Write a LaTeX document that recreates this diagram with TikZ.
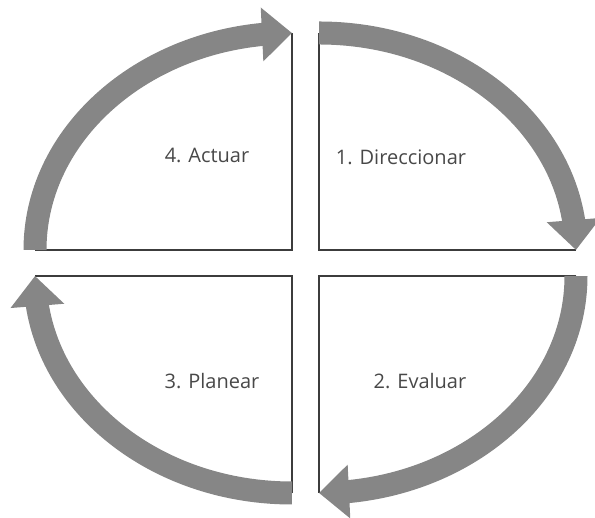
\documentclass[tikz,border=0pt]{standalone}
\usepackage{fontspec}
\setmainfont{Open Sans}
\usetikzlibrary{arrows.meta, bending}

\definecolor{arcgray}{RGB}{134,134,134}
\definecolor{textgray}{RGB}{72,72,72}
\definecolor{framegray}{RGB}{60,60,60}

\begin{document}
\begin{tikzpicture}[
	x=1pt, y=1pt,
	% thick grey arrows round the cycle
	cycle arrow/.style={draw=arcgray, line width=23pt, -{Triangle[width=52pt, length=30pt]}},
	% thin lines of the quadrants
	quad line/.style={draw=framegray, line width=1.5pt},
	% labels of the four phases
	phase label/.style={font=\fontsize{20}{23}\selectfont, text=textgray, align=center}
	]
	\useasboundingbox (0,0) rectangle (595,518);

	% ==============================================================================
	% INNER CORNERS AND ENDS OF THE ARCS
	% ==============================================================================
	\coordinate (TL) at (292,268);
	\coordinate (TR) at (319,268);
	\coordinate (BR) at (319,242);
	\coordinate (BL) at (292,242);

	\coordinate (TL-w) at (35,268);  \coordinate (TL-n) at (292,485);
	\coordinate (TR-n) at (319,485); \coordinate (TR-e) at (576,268);
	\coordinate (BR-e) at (576,242); \coordinate (BR-s) at (319,25);
	\coordinate (BL-s) at (292,25);  \coordinate (BL-w) at (35,242);

	% Quadrant lines
	\draw[quad line] (TL-w) -- (TL) -- (TL-n);
	\draw[quad line] (TR-n) -- (TR) -- (TR-e);
	\draw[quad line] (BR-e) -- (BR) -- (BR-s);
	\draw[quad line] (BL-s) -- (BL) -- (BL-w);

	% ==============================================================================
	% CYCLE ARROWS
	% ==============================================================================
	\draw[cycle arrow] (TR-n) arc[start angle=90, end angle=0, x radius=257pt, y radius=217pt];   % 1 -> 2
	\draw[cycle arrow] (BR-e) arc[start angle=0, end angle=-90, x radius=257pt, y radius=217pt];  % 2 -> 3
	\draw[cycle arrow] (BL-s) arc[start angle=270, end angle=180, x radius=257pt, y radius=217pt]; % 3 -> 4
	\draw[cycle arrow] (TL-w) arc[start angle=180, end angle=90, x radius=257pt, y radius=217pt];  % 4 -> 1

	% Phase labels
	\node[phase label] (direccionar) at (401,361) {1. Direccionar};
	\node[phase label] (evaluar) at (420,137) {2. Evaluar};
	\node[phase label] (planear) at (212,137) {3. Planear};
	\node[phase label] (actuar) at (207,363) {4. Actuar};

\end{tikzpicture}
\end{document}
